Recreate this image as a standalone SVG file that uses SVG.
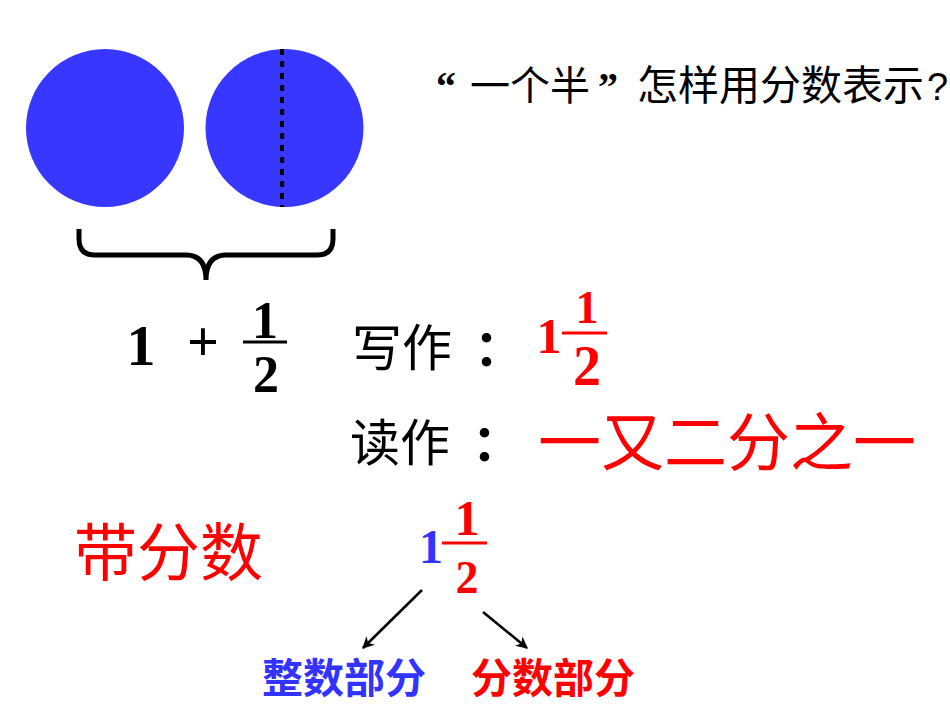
<svg xmlns="http://www.w3.org/2000/svg" width="950" height="713" viewBox="0 0 950 713">
<style>
.cjk{font-family:"Noto Sans CJK SC","Noto Sans",sans-serif}
.num{font-family:"Liberation Serif","Times New Roman",serif;font-weight:bold}
.red{fill:#FF0000}
.blue{fill:#3333FF}
.blk{fill:#000000}
.bar{stroke-width:3}
</style>
<defs>
<marker id="ah" viewBox="0 0 10 10" refX="9" refY="5" markerWidth="12" markerHeight="12" orient="auto" markerUnits="userSpaceOnUse">
<path d="M0,0 L10,5 L0,10 L3,5 z" fill="#000"/>
</marker>
</defs>
<rect width="950" height="713" fill="#fff"/>
<g id="circles">
<circle cx="105" cy="128" r="79" fill="#3737FF"/>
<circle cx="284.5" cy="128" r="79" fill="#3737FF"/>
<line x1="282" y1="49" x2="282" y2="207" stroke="#000" stroke-width="4" stroke-dasharray="6 6"/>
</g>
<g id="brace">
<path d="M79,229 V239 Q79,255 95,255 H186 Q206,255 206,280 Q206,255 226,255 H317 Q333,255 333,239 V229" fill="none" stroke="#000" stroke-width="5"/>
</g>
<g id="question">
<text x="436" y="100" class="num blk" font-size="40">“</text>
<text x="470" y="100" class="cjk blk" font-size="40">一个半</text>
<text x="598" y="100" class="num blk" font-size="40">”</text>
<text x="637" y="100" class="cjk blk" font-size="41">怎样用分数表示</text>
<text x="927" y="100" class="blk" font-family="Liberation Sans, Arial, sans-serif" font-size="38">?</text>
</g>
<g id="sum">
<text x="141" y="365" class="num blk" font-size="58" text-anchor="middle">1</text>
<text x="203" y="361" class="num blk" font-size="56" text-anchor="middle">+</text>
<text x="265" y="338" class="num blk" font-size="52" text-anchor="middle">1</text>
<line x1="243" y1="342" x2="287" y2="342" stroke="#000" class="bar"/>
<text x="266" y="392" class="num blk" font-size="52" text-anchor="middle">2</text>
</g>
<g id="write">
<text x="352" y="366" class="cjk blk" font-size="50">写作</text>
<text x="474" y="366" class="cjk blk" font-size="50" font-weight="bold">：</text>
<text x="549" y="353" class="num red" font-size="50" text-anchor="middle">1</text>
<text x="587" y="323" class="num red" font-size="46" text-anchor="middle">1</text>
<line x1="562" y1="333" x2="607" y2="333" stroke="#FF0000" class="bar"/>
<text x="587" y="385" class="num red" font-size="56" text-anchor="middle">2</text>
</g>
<g id="read">
<text x="350" y="461" class="cjk blk" font-size="50">读作</text>
<text x="472" y="461" class="cjk blk" font-size="50" font-weight="bold">：</text>
<text x="538" y="465" class="cjk red" font-size="63">一又二分之一</text>
</g>
<g id="mixed">
<text x="74" y="575" class="cjk red" font-size="63">带分数</text>
<text x="431" y="563" class="num blue" font-size="48" text-anchor="middle">1</text>
<text x="467" y="535" class="num red" font-size="50" text-anchor="middle">1</text>
<line x1="442" y1="543" x2="487" y2="543" stroke="#FF0000" class="bar"/>
<text x="467" y="593" class="num red" font-size="46" text-anchor="middle">2</text>
</g>
<g id="connectors">
<line x1="422" y1="590" x2="363" y2="648" stroke="#000" stroke-width="2.5" marker-end="url(#ah)"/>
<line x1="483" y1="612" x2="527" y2="648" stroke="#000" stroke-width="2.5" marker-end="url(#ah)"/>
</g>
<g id="whole-part">
<text x="262" y="693" class="cjk blue" font-size="41" font-weight="bold">整数部分</text>
</g>
<g id="fraction-part">
<text x="471" y="693" class="cjk red" font-size="41" font-weight="bold">分数部分</text>
</g>
</svg>
